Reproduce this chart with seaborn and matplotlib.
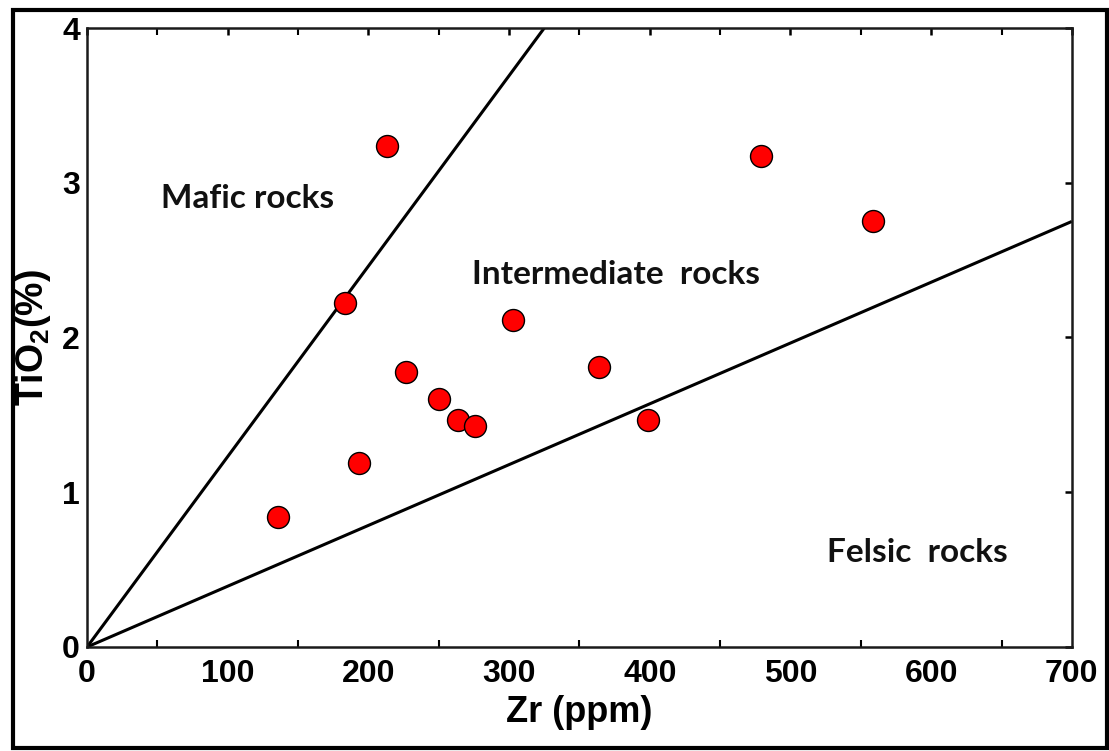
import matplotlib
matplotlib.use("Agg")
import matplotlib.pyplot as plt
import seaborn as sns
import pandas as pd
from matplotlib.patches import Rectangle
from matplotlib.ticker import MultipleLocator

# ---- data ----
zr = [136, 183, 213, 193, 227, 250, 264, 276, 303, 364, 399, 479, 559]
tio2 = [0.84, 2.22, 3.24, 1.19, 1.78, 1.60, 1.47, 1.43, 2.11, 1.81, 1.47, 3.17, 2.75]

mafic_line_x = [0, 325]
mafic_line_y = [0, 4.0]
felsic_line_x = [0, 700]
felsic_line_y = [0, 2.75]

region_labels = ["Mafic rocks", "Intermediate  rocks", "Felsic  rocks"]
region_x = [114, 376, 590]
region_y = [2.90, 2.41, 0.61]

x_ticks = [0, 100, 200, 300, 400, 500, 600, 700]
y_ticks = [0, 1, 2, 3, 4]

df = pd.DataFrame({"Zr": zr, "TiO2": tio2})

sns.set_theme(style="white")
plt.rcParams['font.family'] = ['Liberation Sans', 'DejaVu Sans']
plt.rcParams['mathtext.fontset'] = 'custom'
plt.rcParams['mathtext.bf'] = 'Liberation Sans:bold'
plt.rcParams['mathtext.rm'] = 'Liberation Sans:bold'
plt.rcParams['text.color'] = 'black'
plt.rcParams['axes.labelcolor'] = 'black'
plt.rcParams['xtick.color'] = 'black'
plt.rcParams['ytick.color'] = 'black'

fig = plt.figure(figsize=(11.09, 7.51), dpi=100)
ax = fig.add_axes([0.0785, 0.1385, 0.888, 0.8242])

ax.plot(mafic_line_x, mafic_line_y, color="black", lw=2.2, solid_capstyle="butt", clip_on=True)
ax.plot(felsic_line_x, felsic_line_y, color="black", lw=2.2, solid_capstyle="butt", clip_on=True)

sns.scatterplot(data=df, x="Zr", y="TiO2", ax=ax, s=250, color="#ff0000",
                edgecolor="black", linewidth=1.0, zorder=5, clip_on=False)

for lab, lx, ly in zip(region_labels, region_x, region_y):
    ax.text(lx, ly, lab, ha="center", va="center", fontsize=24,
            fontweight="bold", family=["Lato", "DejaVu Sans"], color="#111111")

ax.set_xlim(0, 700)
ax.set_ylim(0, 4)
ax.set_xticks(x_ticks)
ax.set_yticks(y_ticks)
ax.xaxis.set_minor_locator(MultipleLocator(50))

for sp in ax.spines.values():
    sp.set_linewidth(1.8)
    sp.set_color("#1a1a1a")

ax.tick_params(axis="x", which="major", direction="in", length=9, width=1.8,
               labelsize=23, pad=9, top=True)
ax.tick_params(axis="x", which="minor", direction="in", length=5, width=1.5, top=True, bottom=True)
ax.tick_params(axis="y", which="major", direction="in", length=8, width=1.8,
               labelsize=23, pad=5, right=True)
for t in ax.xaxis.get_major_ticks():
    t.tick2line.set_markersize(5)
for t in ax.yaxis.get_major_ticks():
    t.tick2line.set_markersize(5)
for t in ax.get_xticklabels() + ax.get_yticklabels():
    t.set_fontweight("bold")

ax.set_xlabel("Zr (ppm)", fontsize=26, fontweight="bold", labelpad=4)
ax.set_ylabel(r"TiO$_{\mathbf{2}}$(%)", fontsize=27, fontweight="bold")
ax.yaxis.set_label_coords(-0.035, 0.5)

# outer figure frame
fig.add_artist(Rectangle((13/1109, 1 - 748/751), (1107-13)/1109, (748-10)/751,
                         transform=fig.transFigure, fill=False, edgecolor="black",
                         linewidth=3))

fig.savefig("out.png", dpi=100)
